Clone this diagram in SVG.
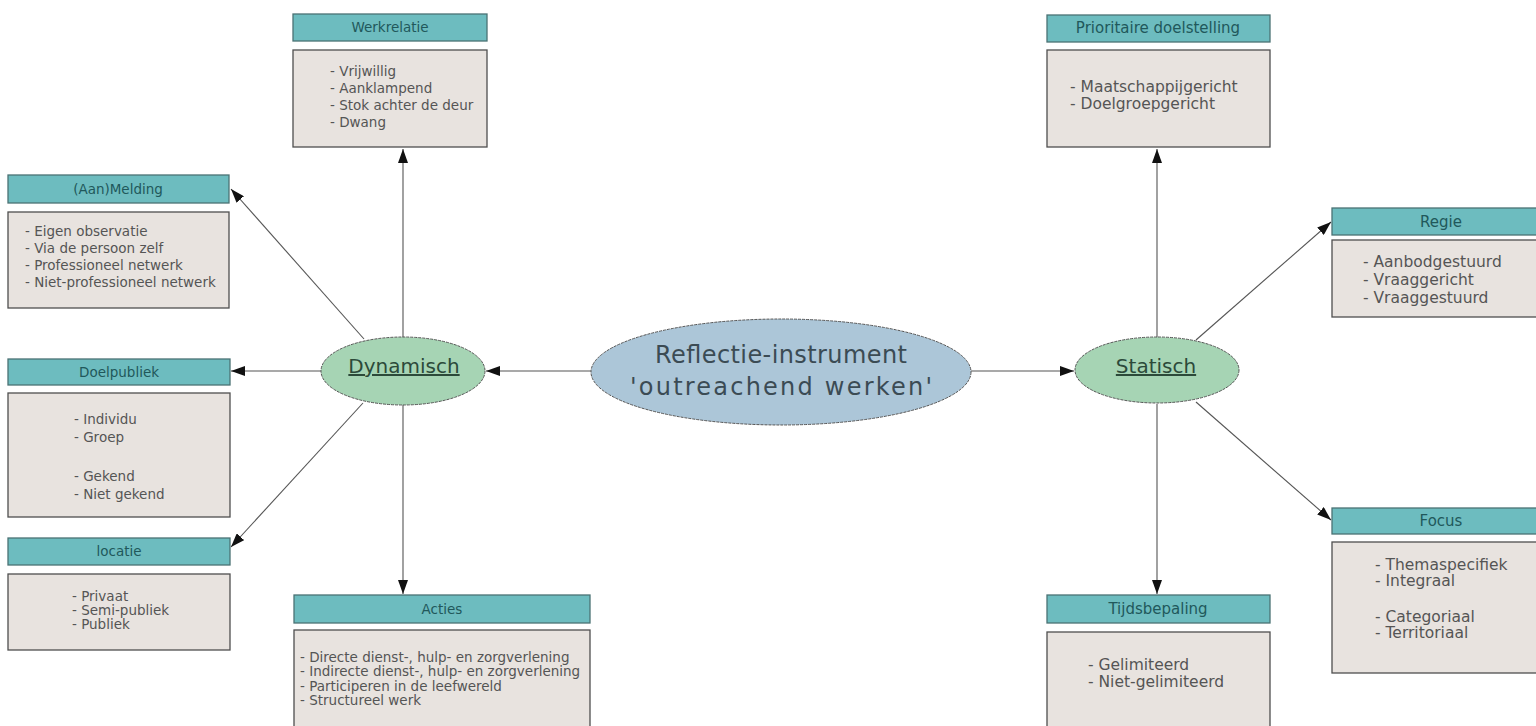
<svg xmlns="http://www.w3.org/2000/svg" width="1536" height="726" viewBox="0 0 1536 726">
<defs>
<marker id="ah" markerWidth="14" markerHeight="10" refX="14" refY="5" orient="auto" markerUnits="userSpaceOnUse">
<path d="M0,0 L14,5 L0,10 Z" fill="#111"/>
</marker>
<style>
.hd{fill:#6dbcbf;stroke:#4a7274;stroke-width:1.3}
.bd{fill:#e8e3df;stroke:#4f4f4f;stroke-width:1.3}
.ht{font-family:"DejaVu Sans",sans-serif;fill:#21585b;text-anchor:middle}
.hl{font-size:13.5px}
.hr{font-size:15px}
.bt{font-family:"DejaVu Sans",sans-serif;fill:#555}
.bl{font-size:13.5px}
.br{font-size:15.5px}
.cn{stroke:#555;stroke-width:1.1;fill:none;marker-end:url(#ah)}
.el{fill:#a6d4b4;stroke:#555;stroke-width:1;stroke-dasharray:3 1}
.et{font-family:"DejaVu Sans",sans-serif;font-size:20px;fill:#2c4a3a;text-anchor:middle;text-decoration:underline}
</style>
</defs>
<rect width="1536" height="726" fill="#fff"/>

<g id="connectors">
<line class="cn" x1="591" y1="371" x2="486" y2="371"/>
<line class="cn" x1="971" y1="371" x2="1074" y2="371"/>
<line class="cn" x1="403" y1="337" x2="403" y2="149"/>
<line class="cn" x1="364" y1="339" x2="231" y2="189"/>
<line class="cn" x1="321" y1="371" x2="231" y2="371"/>
<line class="cn" x1="363" y1="403" x2="231" y2="547"/>
<line class="cn" x1="403" y1="405" x2="403" y2="594"/>
<line class="cn" x1="1157" y1="337" x2="1157" y2="149"/>
<line class="cn" x1="1196" y1="340" x2="1331" y2="222"/>
<line class="cn" x1="1196" y1="402" x2="1331" y2="520"/>
<line class="cn" x1="1157" y1="404" x2="1157" y2="594"/>
</g>

<g id="center">
<ellipse cx="781" cy="372" rx="190" ry="53" fill="#acc6d8" stroke="#555" stroke-width="1" stroke-dasharray="3 1"/>
<text x="781" y="363" font-family="DejaVu Sans, sans-serif" font-size="24" fill="#3b4b54" text-anchor="middle" textLength="252" lengthAdjust="spacing">Reflectie-instrument</text>
<text x="781" y="395" font-family="DejaVu Sans, sans-serif" font-size="24" fill="#3b4b54" text-anchor="middle" textLength="302" lengthAdjust="spacing">'outreachend werken'</text>
</g>

<g id="dynamisch">
<ellipse class="el" cx="403" cy="371" rx="82" ry="34"/>
<text class="et" x="404" y="373">Dynamisch</text>
</g>

<g id="statisch">
<ellipse class="el" cx="1157" cy="370" rx="82" ry="33"/>
<text class="et" x="1156" y="373">Statisch</text>
</g>

<g id="werkrelatie">
<rect class="hd" x="293" y="14" width="194" height="27"/>
<text class="ht hl" x="390" y="32">Werkrelatie</text>
<rect class="bd" x="293" y="50" width="194" height="97"/>
<text class="bt bl" x="330" y="76">- Vrijwillig</text>
<text class="bt bl" x="330" y="93">- Aanklampend</text>
<text class="bt bl" x="330" y="110">- Stok achter de deur</text>
<text class="bt bl" x="330" y="127">- Dwang</text>
</g>

<g id="aanmelding">
<rect class="hd" x="8" y="175" width="221" height="28"/>
<text class="ht hl" x="118" y="194">(Aan)Melding</text>
<rect class="bd" x="8" y="212" width="221" height="96"/>
<text class="bt bl" x="25" y="236">- Eigen observatie</text>
<text class="bt bl" x="25" y="253">- Via de persoon zelf</text>
<text class="bt bl" x="25" y="270">- Professioneel netwerk</text>
<text class="bt bl" x="25" y="287">- Niet-professioneel netwerk</text>
</g>

<g id="doelpubliek">
<rect class="hd" x="8" y="359" width="222" height="26"/>
<text class="ht hl" x="119" y="377">Doelpubliek</text>
<rect class="bd" x="8" y="393" width="222" height="124"/>
<text class="bt bl" x="74" y="424">- Individu</text>
<text class="bt bl" x="74" y="442">- Groep</text>
<text class="bt bl" x="74" y="481">- Gekend</text>
<text class="bt bl" x="74" y="499">- Niet gekend</text>
</g>

<g id="locatie">
<rect class="hd" x="8" y="538" width="222" height="27"/>
<text class="ht hl" x="119" y="556">locatie</text>
<rect class="bd" x="8" y="574" width="222" height="76"/>
<text class="bt bl" x="72" y="601">- Privaat</text>
<text class="bt bl" x="72" y="615">- Semi-publiek</text>
<text class="bt bl" x="72" y="629">- Publiek</text>
</g>

<g id="acties">
<rect class="hd" x="294" y="595" width="296" height="28"/>
<text class="ht hl" x="442" y="614">Acties</text>
<rect class="bd" x="294" y="630" width="296" height="100"/>
<text class="bt bl" x="300" y="662">- Directe dienst-, hulp- en zorgverlening</text>
<text class="bt bl" x="300" y="676">- Indirecte dienst-, hulp- en zorgverlening</text>
<text class="bt bl" x="300" y="691">- Participeren in de leefwereld</text>
<text class="bt bl" x="300" y="705">- Structureel werk</text>
</g>

<g id="prioritaire">
<rect class="hd" x="1047" y="15" width="223" height="27"/>
<text class="ht hr" x="1158" y="33">Prioritaire doelstelling</text>
<rect class="bd" x="1047" y="50" width="223" height="97"/>
<text class="bt br" x="1070" y="92">- Maatschappijgericht</text>
<text class="bt br" x="1070" y="109">- Doelgroepgericht</text>
</g>

<g id="regie">
<rect class="hd" x="1332" y="208" width="220" height="27"/>
<text class="ht hr" x="1441" y="227">Regie</text>
<rect class="bd" x="1332" y="240" width="220" height="77"/>
<text class="bt br" x="1363" y="267">- Aanbodgestuurd</text>
<text class="bt br" x="1363" y="285">- Vraaggericht</text>
<text class="bt br" x="1363" y="303">- Vraaggestuurd</text>
</g>

<g id="focus">
<rect class="hd" x="1332" y="508" width="220" height="26"/>
<text class="ht hr" x="1441" y="526">Focus</text>
<rect class="bd" x="1332" y="542" width="220" height="131"/>
<text class="bt br" x="1375" y="570">- Themaspecifiek</text>
<text class="bt br" x="1375" y="586">- Integraal</text>
<text class="bt br" x="1375" y="622">- Categoriaal</text>
<text class="bt br" x="1375" y="638">- Territoriaal</text>
</g>

<g id="tijdsbepaling">
<rect class="hd" x="1047" y="595" width="223" height="28"/>
<text class="ht hr" x="1158" y="614">Tijdsbepaling</text>
<rect class="bd" x="1047" y="632" width="223" height="98"/>
<text class="bt br" x="1088" y="670">- Gelimiteerd</text>
<text class="bt br" x="1088" y="687">- Niet-gelimiteerd</text>
</g>
</svg>
